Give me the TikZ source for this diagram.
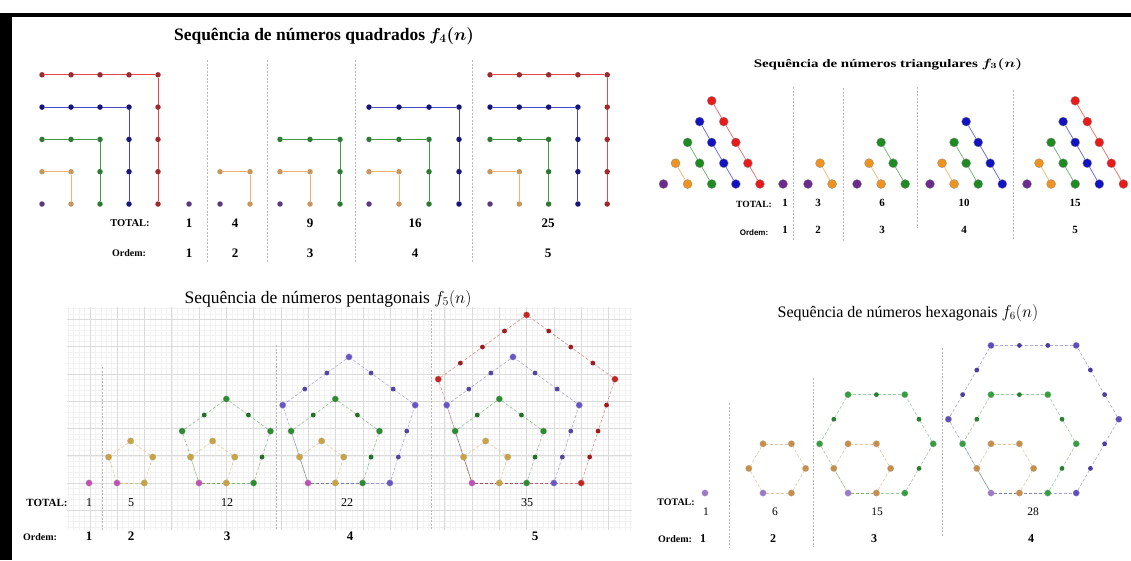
\documentclass[tikz,border=0pt]{standalone}
\usepackage{fontspec}
\setmainfont{Liberation Serif}
\newfontfamily\arialf{Liberation Sans}
\usepackage{bm}
\pgfdeclarelayer{bg}
\pgfsetlayers{bg,main}
% squares
\definecolor{sqd0}{HTML}{5B3A7E}
\definecolor{sqd1}{HTML}{C9955C}
\definecolor{sqd2}{HTML}{2D7A32}
\definecolor{sqd3}{HTML}{15157A}
\definecolor{sqd4}{HTML}{9E2A2F}
\definecolor{sql1}{HTML}{F2B36E}
\definecolor{sql2}{HTML}{3F9A45}
\definecolor{sql3}{HTML}{4848C8}
\definecolor{sql4}{HTML}{E04A4A}
% triangles
\definecolor{trc0}{HTML}{6B2A8E}
\definecolor{trc1}{HTML}{F0921E}
\definecolor{trc2}{HTML}{1E8A22}
\definecolor{trc3}{HTML}{1212C2}
\definecolor{trc4}{HTML}{E81A1A}
% pentagons
\definecolor{pc0}{HTML}{C24FB5}
\definecolor{pc1}{HTML}{C9A33E}
\definecolor{pc2}{HTML}{2A8C2E}
\definecolor{pc3}{HTML}{6A55C8}
\definecolor{pc4}{HTML}{C82222}
% hexagons
\definecolor{hc0}{HTML}{9A78CC}
\definecolor{hc1}{HTML}{C98E45}
\definecolor{hc2}{HTML}{33A03F}
\definecolor{hc3}{HTML}{5E4CC0}

\tikzset{
  sqdot/.style={circle, inner sep=0pt, minimum size=5.5pt, fill=#1},
  tridot/.style={circle, inner sep=0pt, minimum size=9pt, fill=#1, draw=black!45, line width=0.3pt},
  vdot/.style={circle, inner sep=0pt, minimum size=6.5pt, fill=#1, draw=black!30, line width=0.2pt},
  mdot/.style={circle, inner sep=0pt, minimum size=4.8pt, fill=#1},
  sqline/.style={line width=0.9pt, draw=#1},
  triline/.style={line width=0.8pt, draw=#1, opacity=0.6},
  polyline/.style={line width=0.6pt, draw=#1, opacity=0.5, dash pattern=on 3pt off 2pt},
  divider/.style={draw=gray!55, line width=0.4pt, dash pattern=on 2pt off 1.5pt},
  gridminor/.style={draw=gray!10, line width=0.3pt},
  gridmajor/.style={draw=gray!28, line width=0.5pt},
  sqtitle/.style={font=\bfseries\fontsize{17.5}{19}\selectfont},
  trititle/.style={font=\bfseries\fontsize{11.5}{13}\selectfont, xscale=1.3},
  pentitle/.style={font=\fontsize{17.5}{19}\selectfont},
  hextitle/.style={font=\fontsize{16}{18}\selectfont},
  blab/.style={font=\bfseries\fontsize{#1}{#1}\selectfont, inner sep=0pt},
  rlab/.style={font=\fontsize{#1}{#1}\selectfont, inner sep=0pt},
}

% square figure: id, n, x0, dx
\newcommand\sqfig[4]{%
  \node[sqdot=sqd0] (#1-0) at (#3,204) {};
  \ifnum#2>1
    \pgfmathtruncatemacro\sfnm{#2-1}%
    \foreach \kk in {1,...,\sfnm}{%
      \foreach \ii in {0,...,\kk}{%
        \node[sqdot=sqd\kk] (#1-\kk-t\ii) at ({#3+\ii*#4},{204-\kk*32.3}) {};
      }
      \pgfmathtruncatemacro\km{\kk-1}%
      \foreach \jj in {0,...,\km}{%
        \node[sqdot=sqd\kk] (#1-\kk-c\jj) at ({#3+\kk*#4},{204-\jj*32.3}) {};
      }
      \begin{pgfonlayer}{bg}
        \draw[sqline=sql\kk] (#1-\kk-t0) -- (#1-\kk-t\kk) -- (#1-\kk-c0);
      \end{pgfonlayer}
    }%
  \fi
}

% triangle figure: id, n, x0
\newcommand\trifig[3]{%
  \pgfmathtruncatemacro\tfnm{#2-1}%
  \foreach \kk in {0,...,\tfnm}{%
    \foreach \rr in {0,...,\kk}{%
      \node[tridot=trc\kk] (#1-\kk-\rr) at ({#3+\kk*24.1-\rr*12.05},{184-\rr*20.8}) {};
    }
    \ifnum\kk>0
      \begin{pgfonlayer}{bg}\draw[triline=trc\kk] (#1-\kk-0) -- (#1-\kk-\kk);\end{pgfonlayer}
    \fi
  }%
}

% polygonal figure: id, sides, n, x0, y0, s, colour prefix
\newcommand\polyfig[7]{%
  \node[vdot=#7c0] (#1-0) at (#4,#5) {};
  \ifnum#3>1
    \pgfmathtruncatemacro\pfnm{#3-1}%
    \pgfmathtruncatemacro\pfsides{#2-2}%
    \foreach \kk in {1,...,\pfnm}{%
      \foreach \jj in {1,...,\pfsides}{%
        \pgfmathtruncatemacro\tstart{ifthenelse(\jj==1,0,1)}%
        \foreach \tq in {\tstart,...,\kk}{%
          \pgfmathsetmacro\pfang{360/#2}%
          \pgfmathsetmacro\pfL{\kk*#6}%
          \pgfmathsetmacro\pfvr{\pfL*sin(\jj*\pfang/2)/sin(\pfang/2)}%
          \pgfmathsetmacro\pfx{#4+\pfvr*cos((\jj-1)*\pfang/2)+\tq*#6*cos(\jj*\pfang)}%
          \pgfmathsetmacro\pfy{#5-\pfvr*sin((\jj-1)*\pfang/2)-\tq*#6*sin(\jj*\pfang)}%
          \pgfmathtruncatemacro\mm{(\jj-1)*\kk+\tq}%
          \pgfmathtruncatemacro\isv{(\tq==\kk)||(\tq==0)}%
          \ifnum\isv=1
            \node[vdot=#7c\kk] (#1-\kk-\mm) at (\pfx,\pfy) {};
          \else
            \node[mdot=#7c\kk!80!black] (#1-\kk-\mm) at (\pfx,\pfy) {};
          \fi
        }%
      }%
      \begin{pgfonlayer}{bg}
        \draw[polyline=#7c\kk] (#1-0) -- (#1-\kk-0);
        \foreach \jj in {1,...,\pfsides}{%
          \pgfmathtruncatemacro\ma{(\jj-1)*\kk}%
          \pgfmathtruncatemacro\mb{\jj*\kk}%
          \draw[polyline=#7c\kk] (#1-\kk-\ma) -- (#1-\kk-\mb);
        }
        \pgfmathtruncatemacro\mc{\pfsides*\kk}%
        \draw[polyline=#7c\kk] (#1-\kk-\mc) -- (#1-0);
      \end{pgfonlayer}
    }%
  \fi
}

\begin{document}
\begin{tikzpicture}[x=1pt,y=-1pt]
\useasboundingbox (0,0) rectangle (1131,560);
\begin{pgfonlayer}{bg}
\fill[white] (0,0) rectangle (1131,560);
% ---------- pentagon grid ----------
\foreach \ii in {-74,...,29}{\draw[gridminor] ({472+\ii*5.46},307) -- ({472+\ii*5.46},530);}
\foreach \jj in {-32,...,8}{\draw[gridminor] (67,{483+\jj*5.46}) -- (632,{483+\jj*5.46});}
\foreach \ii in {-14,...,5}{\draw[gridmajor] ({472+\ii*27.3},307) -- ({472+\ii*27.3},530);}
\foreach \jj in {-6,...,1}{\draw[gridmajor] (67,{483+\jj*27.3}) -- (632,{483+\jj*27.3});}
\end{pgfonlayer}
% frame
\fill[black] (0,12.5) rectangle (1131,16.8);
\fill[black] (0,12.5) rectangle (12,560);

% ---------- squares ----------
\node[sqtitle] (tsq) at (324,36) {Sequência de números quadrados $\bm{f_4(n)}$};
\sqfig{sqA}{5}{42}{29}
\sqfig{sqB}{1}{189}{29}
\sqfig{sqC}{2}{220}{30}
\sqfig{sqD}{3}{280}{30}
\sqfig{sqE}{4}{369}{30}
\sqfig{sqF}{5}{490}{29.3}
\foreach \xx [count=\cc] in {207,267,355,472}{
  \coordinate (sqv\cc a) at (\xx,60); \coordinate (sqv\cc b) at (\xx,262);
  \draw[divider] (sqv\cc a) -- (sqv\cc b);}
\node[blab=10.5] (sqT) at (130,223) {TOTAL:};
\node[blab=10] (sqO) at (129,253) {Ordem:};
\foreach \xx/\tv/\ov [count=\cc] in {189/1/1,235/4/2,310/9/3,415/16/4,548/25/5}{
  \node[blab=13] (sqt\cc) at (\xx,223) {\tv};
  \node[blab=13] (sqo\cc) at (\xx,253) {\ov};}

% ---------- triangles ----------
\node[trititle] (ttr) at (888,64) {Sequência de números triangulares $\bm{f_3(n)}$};
\trifig{trA}{5}{663.5}
\trifig{trB}{1}{783}
\trifig{trC}{2}{808}
\trifig{trD}{3}{857}
\trifig{trE}{4}{930}
\trifig{trF}{5}{1027}
\foreach \xx/\ya/\yb [count=\cc] in {793/87/240,843/88/242,917/87/228,1013/90/240}{
  \coordinate (trv\cc a) at (\xx,\ya); \coordinate (trv\cc b) at (\xx,\yb);
  \draw[divider] (trv\cc a) -- (trv\cc b);}
\node[blab=9.5] (trT) at (754,204) {TOTAL:};
\node[font=\arialf\bfseries\fontsize{8}{8}\selectfont, inner sep=0pt] (trO) at (754,233) {Ordem:};
\foreach \xx/\tv/\ov [count=\cc] in {785/1/1,818/3/2,882/6/3,964/10/4,1075/15/5}{
  \node[blab=11] (trt\cc) at (\xx,203) {\tv};
  \node[blab=11] (tro\cc) at (\xx,229.5) {\ov};}

% ---------- pentagons ----------
\node[pentitle] (tpe) at (328,299) {Sequência de números pentagonais $f_5(n)$};
\polyfig{peA}{5}{1}{89}{483}{27.3}{p}
\polyfig{peB}{5}{2}{117}{483}{27.3}{p}
\polyfig{peC}{5}{3}{199}{483}{27.3}{p}
\polyfig{peD}{5}{4}{308}{483}{27.3}{p}
\polyfig{peE}{5}{5}{472}{483}{27.3}{p}
\foreach \xx/\ya [count=\cc] in {102/367,276/345,431/310}{
  \coordinate (pev\cc a) at (\xx,\ya); \coordinate (pev\cc b) at (\xx,530);
  \draw[divider] (pev\cc a) -- (pev\cc b);}
\node[blab=11] (peT) at (47,503) {TOTAL:};
\node[blab=10] (peO) at (40,537) {Ordem:};
\foreach \xx/\tv [count=\cc] in {89/1,131/5,227/12,347/22,527/35}{
  \node[rlab=12] (pet\cc) at (\xx,502.5) {\tv};}
\foreach \xx/\ov [count=\cc] in {89/1,131/2,227/3,350/4,535/5}{
  \node[blab=13] (peo\cc) at (\xx,536.5) {\ov};}

% ---------- hexagons ----------
\node[hextitle] (the) at (908,313) {Sequência de números hexagonais $f_6(n)$};
\polyfig{hxA}{6}{1}{705}{493}{28.4}{h}
\polyfig{hxB}{6}{2}{763}{493}{28.4}{h}
\polyfig{hxC}{6}{3}{848}{493}{28.4}{h}
\polyfig{hxD}{6}{4}{991}{493}{28.4}{h}
\foreach \xx/\ya/\yb [count=\cc] in {729/403/547,813/378/547,942/348/537}{
  \coordinate (hxv\cc a) at (\xx,\ya); \coordinate (hxv\cc b) at (\xx,\yb);
  \draw[divider] (hxv\cc a) -- (hxv\cc b);}
\node[blab=10] (hxT) at (676,502) {TOTAL:};
\node[blab=10] (hxO) at (675,539) {Ordem:};
\foreach \xx/\tv [count=\cc] in {706/1,775/6,877/15,1033/28}{
  \node[rlab=11.5] (hxt\cc) at (\xx,511.5) {\tv};}
\foreach \xx/\ov [count=\cc] in {703/1,773/2,874/3,1031/4}{
  \node[blab=12] (hxo\cc) at (\xx,538.5) {\ov};}
\end{tikzpicture}
\end{document}
